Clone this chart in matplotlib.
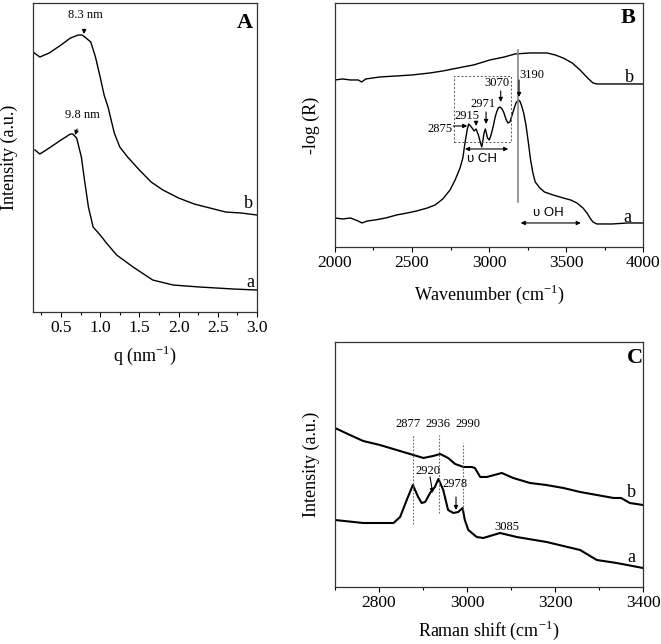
import matplotlib
matplotlib.use("Agg")
import matplotlib.pyplot as plt
from matplotlib.ticker import MultipleLocator

plt.rcParams['font.family'] = ['Liberation Serif', 'DejaVu Serif']

# Panel A - SAXS
q_b = [0.143, 0.23, 0.35, 0.50, 0.62, 0.72, 0.77, 0.82, 0.88, 0.94, 1.00, 1.05, 1.10, 1.18,
       1.25, 1.35, 1.50, 1.65, 1.80, 2.00, 2.20, 2.40, 2.60, 2.80, 3.00]
int_b = [260, 255, 259, 267, 274, 277, 277, 274, 270, 255, 235, 217, 205, 179,
         165, 155, 142, 130, 122, 114, 108, 104, 100, 99, 97]
q_a = [0.168, 0.23, 0.35, 0.50, 0.62, 0.65, 0.70, 0.76, 0.80, 0.85, 0.91, 1.00, 1.08, 1.21,
       1.42, 1.67, 1.93, 2.27, 2.70, 3.00]
int_a = [162, 158, 164, 172, 178, 178, 174, 155, 132, 105, 85, 77, 69, 57,
         45, 32, 27, 25, 23, 22]

# Panel B - IR reflectance
wn_a = [2000, 2050, 2100, 2150, 2175, 2210, 2260, 2330, 2400, 2470, 2530, 2600, 2650, 2700,
        2747, 2780, 2812, 2830, 2844, 2858, 2868, 2880, 2890, 2903, 2916, 2931, 2945, 2953,
        2962, 2968, 2976, 2983, 2990, 3002, 3015, 3028, 3040, 3050, 3060, 3071, 3085, 3097,
        3110, 3122, 3136, 3150, 3160, 3175, 3190, 3200, 3212, 3225, 3240, 3255, 3270, 3285,
        3300, 3330, 3360, 3416, 3481, 3530, 3571, 3610, 3636, 3660, 3675, 3700, 3800, 3900, 4000]
r_a = [29, 28, 29, 26, 24, 26, 27, 29, 32, 34, 36, 39, 42, 48,
       57, 67, 79, 89, 104, 117, 123, 121, 119, 116, 118, 112, 104, 100,
       108, 114, 118, 114, 109, 107, 113, 121, 130, 135, 139, 140, 138, 134,
       128, 124, 125, 132, 137, 144, 147, 146, 141, 134, 122, 105, 87, 74,
       65, 59, 55, 52, 49, 47, 44, 39, 34, 28, 25, 23, 23, 24, 24]
wn_b = [2000, 2050, 2100, 2150, 2173, 2200, 2292, 2400, 2500, 2617, 2700, 2831, 2900, 3006,
        3100, 3169, 3266, 3377, 3430, 3481, 3540, 3591, 3640, 3675, 3701, 3800, 4000]
r_b = [167, 168, 167, 167, 165, 168, 170, 171, 172, 174, 176, 180, 182, 187,
       190, 193, 194, 194, 192, 189, 184, 177, 169, 164, 163, 163, 163]

# Panel C - Raman
rs_a = [2700, 2764, 2802, 2833, 2848, 2863, 2877, 2889, 2897, 2905, 2916, 2927, 2935, 2946,
        2957, 2969, 2980, 2990, 2995, 3003, 3022, 3037, 3075, 3113, 3181, 3257, 3295, 3340, 3400]
ram_a = [67, 64, 64, 64, 70, 87, 102, 90, 84, 85, 94, 100, 108, 97,
         77, 74, 75, 79, 67, 57, 50, 49, 54, 50, 45, 37, 27, 24, 19]
rs_b = [2700, 2734, 2764, 2802, 2840, 2878, 2901, 2923, 2939, 2957, 2973, 2992, 3010, 3018,
        3030, 3045, 3079, 3105, 3143, 3180, 3219, 3257, 3295, 3333, 3350, 3370, 3400]
ram_b = [159, 152, 146, 142, 137, 132, 129, 131, 133, 129, 123, 120, 120, 119,
         110, 110, 114, 109, 104, 102, 99, 95, 92, 89, 89, 84, 82]

fig = plt.figure(figsize=(6.61, 6.44), dpi=100)
axA = fig.add_axes([0.0499, 0.5155, 0.3389, 0.4798])
axB = fig.add_axes([0.5068, 0.6165, 0.4660, 0.3789])
axC = fig.add_axes([0.5068, 0.0885, 0.4660, 0.3805])

for ax in (axA, axB, axC):
    ax.set_yticks([])
    ax.tick_params(axis='x', which='major', direction='out', length=3.5, width=0.8,
                   pad=2, labelsize=12.5)
    ax.tick_params(axis='x', which='minor', direction='out', length=2, width=0.8)
    for s in ax.spines.values():
        s.set_linewidth(0.9)
        s.set_color('#333333')

# ---- A ----
axA.plot(q_b, int_b, color='black', lw=1)
axA.plot(q_a, int_a, color='black', lw=1)
axA.set_xlim(0.143, 3.0)
axA.set_ylim(0, 309)
axA.xaxis.set_major_locator(MultipleLocator(0.5))
axA.xaxis.set_minor_locator(MultipleLocator(0.25))
axA.set_xlabel(r'q (nm$^{\mathregular{-1}}$)', fontsize=13, labelpad=6)
axA.set_ylabel('Intensity (a.u.)', fontsize=13)
axA.yaxis.set_label_coords(-0.065, 0.5)
axA.text(2.85, 289, 'A', fontsize=16, fontweight='bold', ha='center', va='center')
axA.text(2.91, 30, 'a', fontsize=13, ha='center', va='center')
axA.text(2.89, 109, 'b', fontsize=13, ha='center', va='center')
axA.annotate('8.3 nm', xy=(0.793, 278), xytext=(0.806, 297), fontsize=9, ha='center',
             va='center', arrowprops=dict(arrowstyle='-|>', color='black', lw=0.8,
                                          mutation_scale=6, shrinkA=4, shrinkB=0))
axA.annotate('9.8 nm', xy=(0.679, 177), xytext=(0.768, 197), fontsize=9, ha='center',
             va='center', arrowprops=dict(arrowstyle='-|>', color='black', lw=0.8,
                                          mutation_scale=6, shrinkA=4, shrinkB=0))

# ---- B ----
axB.plot(wn_b, r_b, color='black', lw=1)
axB.plot(wn_a, r_a, color='black', lw=1)
axB.set_xlim(2000, 4000)
axB.set_ylim(0, 244)
axB.xaxis.set_major_locator(MultipleLocator(500))
axB.xaxis.set_minor_locator(MultipleLocator(250))
axB.set_xlabel(r'Wavenumber (cm$^{\mathregular{-1}}$)', fontsize=13, labelpad=9)
axB.set_ylabel('-log (R)', fontsize=13)
axB.yaxis.set_label_coords(-0.049, 0.5)
axB.text(3905, 229, 'B', fontsize=16, fontweight='bold', ha='center', va='center')
axB.text(3900, 29, 'a', fontsize=13, ha='center', va='center')
axB.text(3909, 169, 'b', fontsize=13, ha='center', va='center')
axB.plot([3190, 3190], [45, 197], color='#888888', lw=1.2)
axB.plot([2775, 3141, 3141, 2775, 2775], [105, 105, 171, 171, 105], color='#555555',
         lw=0.7, ls=(0, (2, 2)))
arrow_kw = dict(arrowstyle='-|>', color='black', lw=0.8, mutation_scale=6, shrinkA=0, shrinkB=0)
axB.annotate('', xy=(3195, 150), xytext=(3195, 167), arrowprops=arrow_kw)
axB.text(3277, 172, '3190', fontsize=9, ha='center', va='center')
axB.annotate('', xy=(3076, 145), xytext=(3076, 156), arrowprops=arrow_kw)
axB.text(3050, 164, '3070', fontsize=9, ha='center', va='center')
axB.annotate('', xy=(2981, 123), xytext=(2981, 135), arrowprops=arrow_kw)
axB.text(2963, 143, '2971', fontsize=9, ha='center', va='center')
axB.annotate('', xy=(2916, 121), xytext=(2916, 126), arrowprops=arrow_kw)
axB.text(2859, 131, '2915', fontsize=9, ha='center', va='center')
axB.annotate('', xy=(2859, 121), xytext=(2768, 121), arrowprops=arrow_kw)
axB.text(2682, 118, '2875', fontsize=9, ha='center', va='center')
dbl_kw = dict(arrowstyle='<|-|>', color='black', lw=0.8, mutation_scale=6, shrinkA=0, shrinkB=0)
axB.annotate('', xy=(2844, 98), xytext=(3125, 98), arrowprops=dbl_kw)
axB.text(2953, 88, 'υ CH', fontsize=9.5, ha='center', va='center',
         family=['Liberation Sans', 'DejaVu Sans'])
axB.annotate('', xy=(3206, 24), xytext=(3596, 24), arrowprops=dbl_kw)
axB.text(3385, 34, 'υ OH', fontsize=9.5, ha='center', va='center',
         family=['Liberation Sans', 'DejaVu Sans'])

# ---- C ----
axC.plot(rs_b, ram_b, color='black', lw=1.5)
axC.plot(rs_a, ram_a, color='black', lw=1.5)
axC.set_xlim(2700, 3400)
axC.set_ylim(0, 245)
axC.xaxis.set_major_locator(MultipleLocator(200))
axC.xaxis.set_minor_locator(MultipleLocator(100))
axC.set_xlabel(r'Raman shift (cm$^{\mathregular{-1}}$)', fontsize=13, labelpad=6)
axC.set_ylabel('Intensity (a.u.)', fontsize=13)
axC.yaxis.set_label_coords(-0.049, 0.5)
axC.text(3382, 229, 'C', fontsize=16, fontweight='bold', ha='center', va='center')
axC.text(3374, 30, 'a', fontsize=13, ha='center', va='center')
axC.text(3374, 94, 'b', fontsize=13, ha='center', va='center')
for w, top, bot in [(2877, 152, 63), (2936, 152, 74), (2990, 144, 77)]:
    axC.plot([w, w], [bot, top], color='#666666', lw=0.8, ls=(0, (1.5, 1.5)))
axC.text(2867, 157, '2877', fontsize=9, ha='center', va='bottom')
axC.text(2935, 157, '2936', fontsize=9, ha='center', va='bottom')
axC.text(3001, 157, '2990', fontsize=9, ha='center', va='bottom')
axC.annotate('', xy=(2922, 94), xytext=(2916, 110), arrowprops=arrow_kw)
axC.text(2912, 116, '2920', fontsize=9, ha='center', va='center')
axC.annotate('', xy=(2975, 77), xytext=(2975, 90), arrowprops=arrow_kw)
axC.text(2973, 103, '2978', fontsize=9, ha='center', va='center')
axC.text(3090, 60, '3085', fontsize=9, ha='center', va='center')

fig.savefig('out.png', dpi=100)
